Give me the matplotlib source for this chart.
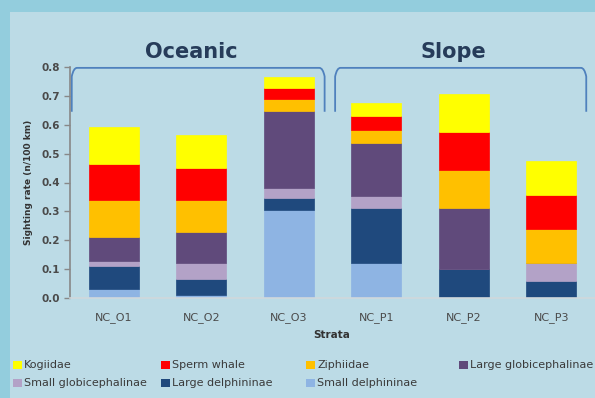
import numpy as np
import matplotlib
matplotlib.use("Agg")
import matplotlib.pyplot as plt
from matplotlib.patches import Rectangle
from matplotlib.path import Path
from matplotlib.patches import PathPatch

strata = ["NC_O1", "NC_O2", "NC_O3", "NC_P1", "NC_P2", "NC_P3"]

# stacked from bottom to top
small_delph = [0.030, 0.012, 0.306, 0.121, 0.000, 0.000]
large_delph = [0.082, 0.055, 0.039, 0.189, 0.102, 0.058]
small_glob = [0.017, 0.053, 0.035, 0.042, 0.000, 0.063]
large_glob = [0.081, 0.109, 0.269, 0.185, 0.210, 0.000]
ziphiidae = [0.130, 0.111, 0.041, 0.046, 0.133, 0.119]
sperm = [0.123, 0.110, 0.037, 0.046, 0.129, 0.115]
kogiidae = [0.128, 0.113, 0.038, 0.047, 0.134, 0.120]

series = [
    ("Small delphininae", small_delph, "#8EB4E3"),
    ("Large delphininae", large_delph, "#1F497D"),
    ("Small globicephalinae", small_glob, "#B3A2C7"),
    ("Large globicephalinae", large_glob, "#604A7B"),
    ("Ziphiidae", ziphiidae, "#FFC000"),
    ("Sperm whale", sperm, "#FF0000"),
    ("Kogiidae", kogiidae, "#FFFF00"),
]

groups = ["Oceanic", "Slope"]
group_span = [(-0.48, 2.41), (2.53, 5.40)]

outer = "#93CDDD"
panel = "#BCDBE6"
txt = "#4A4A4A"

fig = plt.figure(figsize=(5.95, 3.98), dpi=100, facecolor=outer)
fig.patches.append(Rectangle((10/595, 0), 1, 1 - 12/398, transform=fig.transFigure,
                             facecolor=panel, edgecolor="none", zorder=-10))

ax = fig.add_axes([70/595, 1 - 298/398, 525/595, 231/398])
ax.set_facecolor("none")
ax.set_zorder(5)

x = np.arange(len(strata))
bottom = np.zeros(len(strata))
handles = {}
for name, vals, col in series:
    b = ax.bar(x, vals, 0.57, bottom=bottom, color=col, edgecolor=col, linewidth=0.5)
    handles[name] = col
    bottom += np.array(vals)

ax.set_xlim(-0.5, 5.5)
ax.set_ylim(0, 0.8)
ax.set_yticks(np.arange(0, 0.81, 0.1))
ax.set_yticklabels(["%.1f" % v for v in np.arange(0, 0.81, 0.1)],
                   fontsize=7.5, color=txt, fontweight="bold")
ax.set_xticks(x)
ax.set_xticklabels(strata, fontsize=8, color=txt)
ax.tick_params(axis="x", length=0, pad=10)
ax.tick_params(axis="y", length=4, color="#888888", width=1, pad=3)
for s in ["top", "right"]:
    ax.spines[s].set_visible(False)
ax.spines["left"].set_color("#888888")
ax.spines["left"].set_linewidth(1.2)
ax.spines["bottom"].set_color("#D0D8DC")
ax.spines["bottom"].set_linewidth(1.2)

ax.set_ylabel("Sighting rate (n/100 km)", fontsize=6.5, fontweight="bold", color="#333333", labelpad=6)
ax.set_xlabel("Strata", fontsize=7.5, fontweight="bold", color="#333333", labelpad=2)
ax.xaxis.set_label_coords(0.499, -0.14)

# brackets over groups
for g, (a, b) in zip(groups, group_span):
    top, low, r = 0.797, 0.645, 0.06
    verts = [(a, low), (a, top - 0.03), (a + 0.02, top), (a + r, top),
             (b - r, top), (b - 0.02, top), (b, top - 0.03), (b, low)]
    codes = [Path.MOVETO, Path.LINETO, Path.CURVE3, Path.CURVE3,
             Path.LINETO, Path.CURVE3, Path.CURVE3, Path.LINETO]
    ax.add_patch(PathPatch(Path(verts, codes), facecolor="none", edgecolor="#4F81BD",
                           linewidth=1.3, clip_on=False))
    ax.text((a + b) / 2 - 0.08, 0.818, g, ha="center", va="bottom", fontsize=15,
            fontweight="bold", color="#263C5A", clip_on=False)

# legend, laid out in rows like the original
legend_rows = [["Kogiidae", "Sperm whale", "Ziphiidae", "Large globicephalinae"],
               ["Small globicephalinae", "Large delphininae", "Small delphininae"]]
col_x = [13, 161, 306, 459]
row_y = [365, 383]
for r, row in enumerate(legend_rows):
    for c, name in enumerate(row):
        px, py = col_x[c], row_y[r]
        fig.patches.append(Rectangle((px/595, 1 - (py + 4)/398), 9/595, 8/398,
                                     transform=fig.transFigure, facecolor=handles[name],
                                     edgecolor="none", zorder=2))
        fig.text((px + 11)/595, 1 - py/398, name, fontsize=8, color="#3A3A3A",
                 va="center", ha="left")

fig.savefig("out.png", dpi=100, facecolor=outer)
